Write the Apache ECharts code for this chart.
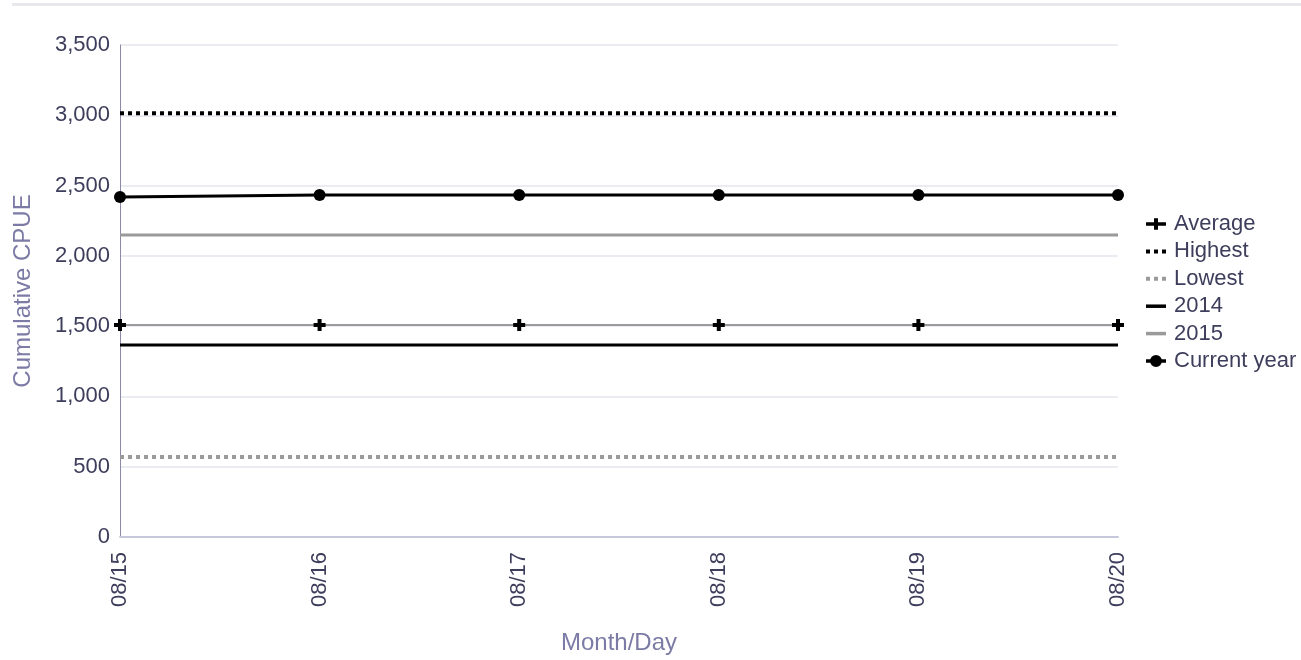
<!DOCTYPE html>
<html><head><meta charset="utf-8">
<script src="https://cdn.jsdelivr.net/npm/echarts@6/dist/echarts.min.js"></script>
<style>html,body{margin:0;padding:0;background:#fff}#c{width:1301px;height:660px}</style>
</head><body><div id="c"></div>
<script>
const categories = ['08/15','08/16','08/17','08/18','08/19','08/20'];
const averageVals = [1508,1508,1508,1508,1508,1508];
const highestVals = [3015,3015,3015,3015,3015,3015];
const lowestVals = [569,569,569,569,569,569];
const y2014Vals = [1366,1366,1366,1366,1366,1366];
const y2015Vals = [2148,2148,2148,2148,2148,2148];
const currentVals = [2419,2433,2433,2433,2433,2433];
const yTicks = [0,500,1000,1500,2000,2500,3000,3500];

const FONT = 'Liberation Sans, Arial, sans-serif';
const plus = 'path://M4,0H8V4H12V8H8V12H4V8H0V4H4Z';
const legPlus = 'path://M0,4H8V0H12V4H20V7.5H12V11.5H8V7.5H0Z';
const legDots = 'path://M0,0H4V4H0Z M8,0H12V4H8Z M16,0H20V4H16Z';
const legSolid = 'path://M0,0H20V3.5H0Z';
const legCirc = 'path://M0,5H5V8.5H0Z M15,5H20V8.5H15Z M4,6.75A6,6 0 1,1 16,6.75A6,6 0 1,1 4,6.75Z';
const txt = '#3d3d5c';
const chart = echarts.init(document.getElementById('c'));
chart.setOption({
  animation:false,
  graphic:[{type:'rect',shape:{x:12,y:3,width:1289,height:3},style:{fill:'#e8e8ec'},silent:true}],
  grid:{left:120,right:183,top:45,bottom:123},
  legend:{
    orient:'vertical', left:1146, top:213, padding:0, itemGap:5.4, itemWidth:20, itemHeight:14,
    symbolKeepAspect:true,
    textStyle:{color:txt,fontSize:22,fontFamily:FONT,padding:[0,0,0,3]},
    data:[
      {name:'Average',icon:legPlus,itemStyle:{color:'#000'}},
      {name:'Highest',icon:legDots,itemStyle:{color:'#000'}},
      {name:'Lowest',icon:legDots,itemStyle:{color:'#9a9a9a'}},
      {name:'2014',icon:legSolid,itemStyle:{color:'#000'}},
      {name:'2015',icon:legSolid,itemStyle:{color:'#9a9a9a'}},
      {name:'Current year',icon:legCirc,itemStyle:{color:'#000'}}
    ]
  },
  xAxis:{type:'category',data:categories,boundaryGap:false,
    axisLine:{lineStyle:{color:'#c8c8dc',width:2}},axisTick:{show:false},
    axisLabel:{rotate:90,color:txt,fontSize:22,margin:15,fontFamily:FONT},
    name:'Month/Day',nameLocation:'middle',nameGap:94,
    nameTextStyle:{color:'#7b7ba6',fontSize:24,fontFamily:FONT},
    splitLine:{show:false}},
  yAxis:{type:'value',min:0,max:3500,interval:500,
    axisLine:{show:true,lineStyle:{color:'#8a8aa6',width:1}},axisTick:{show:false},
    axisLabel:{color:txt,fontSize:22,margin:10,fontFamily:FONT,
      formatter:v=>yTicks.includes(v)?v.toLocaleString('en-US'):''},
    splitLine:{lineStyle:{color:'#ebebf2',width:2}},
    name:'Cumulative CPUE',nameLocation:'middle',nameGap:85,
    nameTextStyle:{color:'#7b7ba6',fontSize:24,fontFamily:FONT}},
  series:[
    {name:'Average',type:'line',data:averageVals,symbol:plus,symbolSize:12,showAllSymbol:true,
      itemStyle:{color:'#000'},lineStyle:{color:'#9a9a9a',width:2},z:5},
    {name:'Highest',type:'line',data:highestVals,symbol:'none',
      itemStyle:{color:'#000'},lineStyle:{color:'#000',width:4,type:[4,4]}},
    {name:'Lowest',type:'line',data:lowestVals,symbol:'none',
      itemStyle:{color:'#9a9a9a'},lineStyle:{color:'#9a9a9a',width:4,type:[4,4]}},
    {name:'2014',type:'line',data:y2014Vals,symbol:'none',
      itemStyle:{color:'#000'},lineStyle:{color:'#000',width:3}},
    {name:'2015',type:'line',data:y2015Vals,symbol:'none',
      itemStyle:{color:'#9a9a9a'},lineStyle:{color:'#9a9a9a',width:3}},
    {name:'Current year',type:'line',data:currentVals,symbol:'circle',symbolSize:12,showAllSymbol:true,
      itemStyle:{color:'#000'},lineStyle:{color:'#000',width:3},z:6}
  ]
});
</script></body></html>
